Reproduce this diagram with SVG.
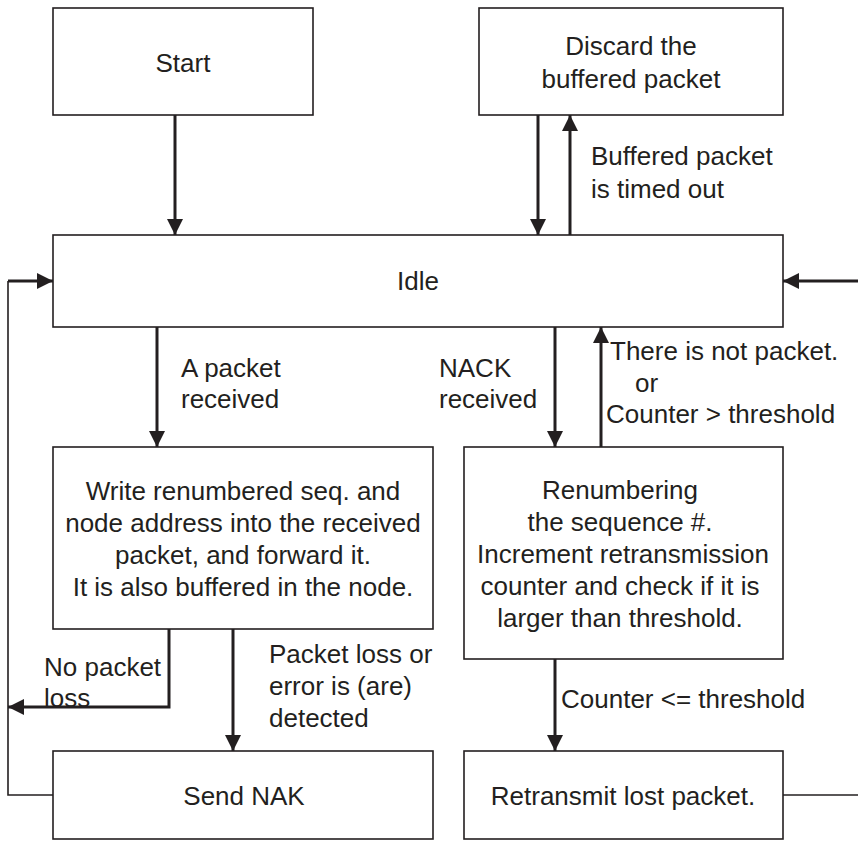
<svg xmlns="http://www.w3.org/2000/svg" width="858" height="841" viewBox="0 0 858 841">
<defs>
<style>
.box{fill:#fff;stroke:#231f20;stroke-width:1.6}
.t{font-family:"Liberation Sans",Arial,sans-serif;font-size:26px;fill:#231f20}
.c{text-anchor:middle}
.a{stroke:#231f20;stroke-width:3;fill:none}
.thin{stroke:#231f20;stroke-width:1.6;fill:none}
</style>
<marker id="ah" viewBox="0 0 16 16" refX="16" refY="8" markerWidth="16" markerHeight="16" markerUnits="userSpaceOnUse" orient="auto">
<path d="M0,0 L16,8 L0,16 Z" fill="#231f20"/>
</marker>
</defs>
<rect width="858" height="841" fill="#fff"/>
<g id="start"><rect class="box" x="53" y="8" width="260" height="107"/><text class="t c" x="183" y="72">Start</text></g>
<g id="discard"><rect class="box" x="479" y="8" width="304" height="107"/><text class="t c" x="631" y="55">Discard the</text><text class="t c" x="631" y="88">buffered packet</text></g>
<g id="idle"><rect class="box" x="53" y="235" width="730" height="92"/><text class="t c" x="418" y="290">Idle</text></g>
<g id="write"><rect class="box" x="53" y="447" width="380" height="182"/>
<text class="t c" x="243" y="500">Write renumbered seq. and</text>
<text class="t c" x="243" y="532">node address into the received</text>
<text class="t c" x="243" y="564">packet, and forward it.</text>
<text class="t c" x="243" y="596">It is also buffered in the node.</text></g>
<g id="renumber"><rect class="box" x="464" y="447" width="319" height="212"/>
<text class="t c" x="620" y="499">Renumbering</text>
<text class="t c" x="620" y="531">the sequence #.</text>
<text class="t c" x="623" y="563">Increment retransmission</text>
<text class="t c" x="620" y="595">counter and check if it is</text>
<text class="t c" x="620" y="627">larger than threshold.</text></g>
<g id="sendnak"><rect class="box" x="53" y="751" width="380" height="88"/><text class="t c" x="244" y="805">Send NAK</text></g>
<g id="retransmit"><rect class="box" x="464" y="751" width="319" height="88"/><text class="t c" x="623" y="805">Retransmit lost packet.</text></g>
<g id="connectors">
<line class="a" x1="175" y1="115" x2="175" y2="235" marker-end="url(#ah)"/>
<line class="a" x1="538" y1="115" x2="538" y2="235" marker-end="url(#ah)"/>
<line class="a" x1="570" y1="235" x2="570" y2="115" marker-end="url(#ah)"/>
<line class="a" x1="157" y1="327" x2="157" y2="447" marker-end="url(#ah)"/>
<line class="a" x1="555" y1="327" x2="555" y2="447" marker-end="url(#ah)"/>
<line class="a" x1="601" y1="447" x2="601" y2="327" marker-end="url(#ah)"/>
<line class="a" x1="858" y1="281" x2="783" y2="281" marker-end="url(#ah)"/>
<line class="a" x1="8" y1="281" x2="53" y2="281" marker-end="url(#ah)"/>
<polyline class="thin" points="53,795 8,795 8,281"/>
<polyline class="a" points="169,629 169,707 8,707" marker-end="url(#ah)"/>
<line class="a" x1="233" y1="629" x2="233" y2="751" marker-end="url(#ah)"/>
<line class="a" x1="555" y1="659" x2="555" y2="751" marker-end="url(#ah)"/>
<line class="thin" x1="783" y1="795" x2="858" y2="795"/>
<text class="t" x="591" y="165">Buffered packet</text>
<text class="t" x="591" y="198">is timed out</text>
<text class="t" x="181" y="377">A packet</text>
<text class="t" x="181" y="408">received</text>
<text class="t" x="439" y="377">NACK</text>
<text class="t" x="439" y="408">received</text>
<text class="t" x="610" y="360">There is not packet.</text>
<text class="t" x="635" y="392">or</text>
<text class="t" x="606" y="423">Counter &gt; threshold</text>
<text class="t" x="44" y="676">No packet</text>
<text class="t" x="44" y="707">loss</text>
<text class="t" x="269" y="663">Packet loss or</text>
<text class="t" x="269" y="695">error is (are)</text>
<text class="t" x="269" y="727">detected</text>
<text class="t" x="561" y="708">Counter &lt;= threshold</text>
</g>
</svg>
